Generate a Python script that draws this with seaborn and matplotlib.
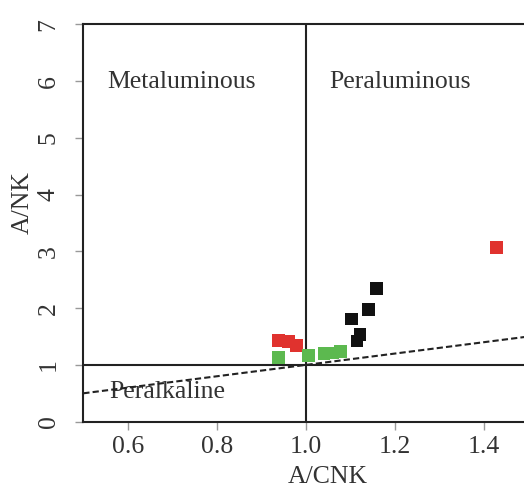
import matplotlib
matplotlib.use("Agg")
import matplotlib.pyplot as plt
import seaborn as sns
import pandas as pd

# A/CNK and A/NK values for each sample group
red_acnk = [0.938, 0.962, 0.980, 1.428]
red_ank = [1.43, 1.41, 1.34, 3.07]

black_acnk = [1.159, 1.141, 1.103, 1.122, 1.115]
black_ank = [2.35, 1.97, 1.81, 1.53, 1.42]

green_acnk = [0.939, 1.006, 1.041, 1.060, 1.079]
green_ank = [1.13, 1.17, 1.20, 1.21, 1.23]

groups = ["A", "B", "C"]
colors = ["#e0322e", "#111111", "#5cb94f"]

x_ticks = [0.6, 0.8, 1.0, 1.2, 1.4]
y_ticks = [0, 1, 2, 3, 4, 5, 6, 7]

df = pd.DataFrame({
    "A/CNK": red_acnk + black_acnk + green_acnk,
    "A/NK": red_ank + black_ank + green_ank,
    "group": [groups[0]] * len(red_acnk) + [groups[1]] * len(black_acnk)
             + [groups[2]] * len(green_acnk),
})

sns.set_style("white")
plt.rcParams["font.family"] = ["Liberation Serif", "DejaVu Serif"]

fig = plt.figure(figsize=(5.24, 4.96), dpi=100)
W, H = 524, 496
ax = fig.add_axes([83.3 / W, 74.3 / H, 489.4 / W, 397.4 / H])

ink = "#222222"
ax.set_xlim(0.5, 1.6)
ax.set_ylim(0, 7)

# Field boundaries
ax.axhline(1.0, color=ink, lw=1.5, zorder=1)
ax.plot([1.0, 1.0], [0, 7], color=ink, lw=1.5, zorder=1)
ax.plot([0.5, 1.6], [0.5, 1.6], color=ink, lw=1.5, ls=(0, (3, 1.5)), zorder=1)

sns.scatterplot(data=df, x="A/CNK", y="A/NK", hue="group", hue_order=groups,
                palette=colors, marker="s", s=85, linewidth=0, legend=False,
                ax=ax, zorder=3)

fs = 18.5
ax.text(0.555, 5.88, "Metaluminous", fontsize=fs, color="#333333")
ax.text(1.054, 5.88, "Peraluminous", fontsize=fs, color="#333333")
ax.text(0.558, 0.41, "Peralkaline", fontsize=fs, color="#333333", zorder=0)

ax.set_xticks(x_ticks)
ax.set_xticklabels([f"{v:.1f}" for v in x_ticks])
ax.set_yticks(y_ticks)
ax.set_yticklabels([str(v) for v in y_ticks], rotation=90, va="center")
ax.tick_params(axis="both", direction="out", length=6, width=1, color="#999999",
               labelsize=fs, labelcolor="#333333")
ax.tick_params(axis="x", bottom=True, pad=4)
ax.tick_params(axis="y", left=True, pad=11)

ax.set_xlabel("A/CNK", fontsize=fs, color="#333333")
ax.set_ylabel("A/NK", fontsize=fs, color="#333333")
ax.xaxis.set_label_coords((328 - 83.3) / 489.4, -0.112)
ax.yaxis.set_label_coords(-0.102, (421.7 - 203) / 397.4)

for side in ["left", "bottom", "top", "right"]:
    ax.spines[side].set_color(ink)
    ax.spines[side].set_linewidth(1.5)

fig.savefig("out.png", dpi=100)
